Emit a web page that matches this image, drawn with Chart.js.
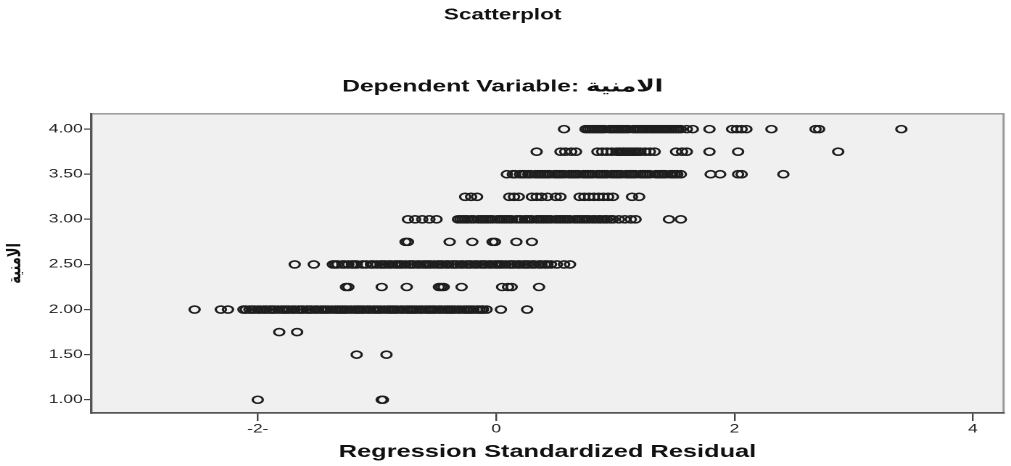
<!DOCTYPE html>
<html lang="en">
<head>
  <meta charset="utf-8">
  <title>Scatterplot</title>
  <script src="https://cdn.jsdelivr.net/npm/chart.js"></script>
  <style>
    html, body { margin: 0; padding: 0; background: #fff; overflow: hidden; }
    #wrap { width: 1011px; height: 466px; overflow: hidden; }
    #chart { transform-origin: 0 0; }
  </style>
</head>
<body>
  <div id="wrap"><canvas id="chart"></canvas></div>

  <script>
    // value of the dependent variable for each row of residuals
    const levels = [4.00, 3.75, 3.50, 3.25, 3.00, 2.75, 2.50, 2.25, 2.00, 1.75, 1.50, 1.00];

    // regression standardized residuals, one list per level (dense rows have many overlapping cases)
    const res400 = [0.57, 0.75, 0.77, 0.79, 0.81, 0.83, 0.85, 0.87, 0.89, 0.91, 0.95, 0.97, 0.99, 1.01, 1.03, 1.05, 1.07, 1.09, 1.11, 1.15, 1.17, 1.19, 1.21, 1.23, 1.25, 1.27, 1.29, 1.31, 1.33, 1.35, 1.37, 1.39, 1.41, 1.43, 1.45, 1.47, 1.49, 1.51, 1.53, 1.55, 1.60, 1.65, 1.79, 1.98, 2.02, 2.06, 2.10, 2.31, 2.68, 2.71, 3.40];
    const res375 = [0.34, 0.54, 0.58, 0.63, 0.67, 0.85, 0.89, 0.93, 0.97, 1.01, 1.03, 1.04, 1.06, 1.07, 1.09, 1.10, 1.12, 1.13, 1.15, 1.17, 1.19, 1.21, 1.25, 1.29, 1.33, 1.51, 1.56, 1.60, 1.79, 2.03, 2.87];
    const res350 = [0.09, 0.14, 0.16, 0.20, 0.22, 0.24, 0.27, 0.29, 0.33, 0.35, 0.37, 0.39, 0.41, 0.43, 0.45, 0.49, 0.51, 0.53, 0.55, 0.57, 0.61, 0.63, 0.65, 0.67, 0.69, 0.73, 0.75, 0.77, 0.79, 0.81, 0.85, 0.87, 0.89, 0.91, 0.93, 0.97, 0.99, 1.01, 1.03, 1.05, 1.09, 1.11, 1.13, 1.15, 1.17, 1.21, 1.23, 1.25, 1.27, 1.29, 1.34, 1.36, 1.38, 1.40, 1.42, 1.46, 1.48, 1.50, 1.52, 1.55, 1.80, 1.88, 2.03, 2.06, 2.41];
    const res325 = [-0.26, -0.21, -0.16, 0.11, 0.15, 0.19, 0.30, 0.34, 0.38, 0.43, 0.50, 0.54, 0.70, 0.74, 0.78, 0.82, 0.86, 0.90, 0.94, 0.98, 1.14, 1.20];
    const res300 = [-0.74, -0.68, -0.62, -0.56, -0.50, -0.32, -0.30, -0.28, -0.26, -0.24, -0.21, -0.19, -0.15, -0.13, -0.11, -0.09, -0.07, -0.05, -0.03, 0.01, 0.03, 0.05, 0.07, 0.09, 0.11, 0.13, 0.17, 0.19, 0.21, 0.24, 0.26, 0.28, 0.30, 0.34, 0.36, 0.38, 0.40, 0.42, 0.44, 0.46, 0.50, 0.52, 0.54, 0.56, 0.58, 0.60, 0.62, 0.66, 0.68, 0.70, 0.72, 0.74, 0.76, 0.78, 0.81, 0.83, 0.86, 0.88, 0.91, 0.93, 0.96, 0.98, 1.03, 1.08, 1.13, 1.17, 1.45, 1.55];
    const res275 = [-0.76, -0.74, -0.39, -0.20, -0.03, -0.01, 0.17, 0.30];
    const res250 = [-1.69, -1.53, -1.37, -1.35, -1.33, -1.29, -1.27, -1.24, -1.21, -1.19, -1.17, -1.12, -1.09, -1.05, -1.03, -1.00, -0.97, -0.95, -0.93, -0.90, -0.88, -0.85, -0.83, -0.81, -0.79, -0.76, -0.73, -0.71, -0.69, -0.66, -0.64, -0.61, -0.59, -0.57, -0.55, -0.52, -0.49, -0.47, -0.45, -0.42, -0.40, -0.37, -0.35, -0.33, -0.30, -0.28, -0.25, -0.23, -0.21, -0.18, -0.16, -0.13, -0.11, -0.09, -0.06, -0.04, -0.01, 0.01, 0.03, 0.05, 0.08, 0.11, 0.13, 0.15, 0.18, 0.20, 0.23, 0.25, 0.27, 0.30, 0.32, 0.36, 0.38, 0.41, 0.43, 0.46, 0.51, 0.57, 0.62];
    const res225 = [-1.26, -1.24, -0.96, -0.75, -0.48, -0.46, -0.44, -0.29, 0.05, 0.10, 0.13, 0.36];
    const res200 = [-2.53, -2.31, -2.25, -2.12, -2.10, -2.07, -2.05, -2.03, -2.00, -1.98, -1.95, -1.93, -1.90, -1.88, -1.86, -1.83, -1.80, -1.78, -1.76, -1.74, -1.71, -1.69, -1.66, -1.64, -1.62, -1.59, -1.57, -1.55, -1.52, -1.50, -1.47, -1.45, -1.43, -1.41, -1.38, -1.35, -1.33, -1.31, -1.29, -1.27, -1.25, -1.22, -1.19, -1.17, -1.15, -1.13, -1.11, -1.08, -1.06, -1.03, -1.01, -0.99, -0.97, -0.94, -0.91, -0.89, -0.87, -0.85, -0.83, -0.80, -0.78, -0.75, -0.73, -0.71, -0.69, -0.67, -0.64, -0.62, -0.59, -0.57, -0.55, -0.53, -0.51, -0.48, -0.46, -0.43, -0.41, -0.39, -0.37, -0.35, -0.32, -0.30, -0.27, -0.25, -0.23, -0.21, -0.19, -0.16, -0.14, -0.12, -0.11, -0.08, 0.04, 0.26];
    const res175 = [-1.82, -1.67];
    const res150 = [-1.17, -0.92];
    const res100 = [-2.00, -0.96, -0.95];

    const rows = [res400, res375, res350, res325, res300, res275, res250, res225, res200, res175, res150, res100];

    const xTicks = [-2, 0, 2, 4];
    const xTickLabels = ['-2-', '0', '2', '4'];
    const yTicks = [1.00, 1.50, 2.00, 2.50, 3.00, 3.50, 4.00];

    const points = rows.flatMap((row, i) => row.map(x => ({ x: x, y: levels[i] })));

    // the original picture is stretched sideways, so draw narrow and stretch the canvas
    const STRETCH = 1.45;
    const W = Math.round(1011 / STRETCH), H = 466;
    const canvas = document.getElementById('chart');
    canvas.width = W;
    canvas.height = H;
    canvas.style.transform = 'scaleX(' + (1011 / W) + ')';

    const FONT = "'Liberation Sans', 'DejaVu Sans', Arial, sans-serif";
    Chart.defaults.font.family = FONT;

    const plotFrame = {
      id: 'plotFrame',
      beforeDraw(chart) {
        const { ctx, chartArea: a } = chart;
        ctx.save();
        ctx.fillStyle = '#f0f0f0';
        ctx.fillRect(a.left, a.top, a.width, a.height);
        ctx.strokeStyle = '#999';
        ctx.lineWidth = 1.5;
        ctx.strokeRect(a.left, a.top, a.width, a.height);
        ctx.restore();
      }
    };

    new Chart(canvas, {
      type: 'scatter',
      data: {
        datasets: [{
          data: points,
          pointStyle: 'circle',
          pointRadius: 3.5,
          pointHoverRadius: 3.5,
          borderWidth: 1.6,
          borderColor: '#1e1e1e',
          backgroundColor: 'rgba(0,0,0,0)'
        }]
      },
      options: {
        responsive: false,
        animation: false,
        devicePixelRatio: 2,
        layout: { padding: { left: 0, right: 4, top: 0, bottom: 0 } },
        plugins: {
          legend: { display: false },
          tooltip: { enabled: false },
          title: {
            display: true,
            text: 'Scatterplot',
            color: '#111',
            font: { size: 15.5, weight: 'bold', family: FONT },
            padding: { top: 6, bottom: 51.6 }
          },
          subtitle: {
            display: true,
            text: 'Dependent Variable: الامنية',
            color: '#111',
            font: { size: 17, weight: 'bold', family: FONT },
            padding: { top: 0.5, bottom: 16.7 }
          }
        },
        scales: {
          x: {
            type: 'linear',
            min: -3.396,
            max: 4.258,
            afterBuildTicks: s => { s.ticks = xTicks.map(v => ({ value: v })); },
            afterFit: s => { s.height = 53; },
            ticks: {
              callback: (v, i) => xTickLabels[i],
              color: '#222',
              font: { size: 12 },
              padding: 1,
              autoSkip: false,
              maxRotation: 0
            },
            grid: { drawOnChartArea: false, drawTicks: true, tickLength: 8, color: '#444', lineWidth: 1.2 },
            border: { display: true, color: '#555', width: 1.6 },
            title: {
              display: true,
              text: 'Regression Standardized Residual',
              color: '#111',
              font: { size: 17.5, weight: 'bold', family: FONT },
              padding: { top: 0, bottom: 3.5 }
            }
          },
          y: {
            type: 'linear',
            min: 0.853,
            max: 4.17,
            afterBuildTicks: s => { s.ticks = yTicks.map(v => ({ value: v })); },
            afterFit: s => { s.width = 63; },
            ticks: {
              callback: v => v.toFixed(2),
              color: '#222',
              font: { size: 12 },
              padding: 1,
              autoSkip: false
            },
            grid: { drawOnChartArea: false, drawTicks: true, tickLength: 5, color: '#444', lineWidth: 1.2 },
            border: { display: true, color: '#555', width: 1.6 },
            title: {
              display: true,
              text: 'الامنية',
              color: '#111',
              font: { size: 13, weight: 'bold', family: FONT },
              padding: { top: 2.5, bottom: 0 }
            }
          }
        }
      },
      plugins: [plotFrame]
    });
  </script>
</body>
</html>
